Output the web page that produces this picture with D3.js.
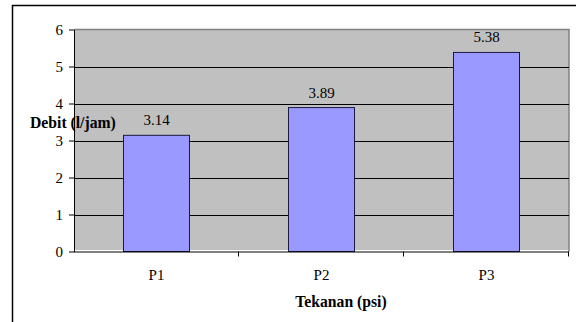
<!DOCTYPE html>
<html>
<head>
<meta charset="utf-8">
<script src="https://cdn.jsdelivr.net/npm/d3@7"></script>
<style>
  body { margin: 0; background: #fff; }
  svg text { font-family: "Liberation Serif", "Times New Roman", Times, "DejaVu Serif", serif; fill: #000; }
</style>
</head>
<body>
<div id="chart-area"></div>
<script>
const categories = ["P1", "P2", "P3"];
const values = [3.14, 3.89, 5.38];
const yTicks = [0, 1, 2, 3, 4, 5, 6];

const W = 576, H = 322;
const plot = { left: 74, right: 569, top: 29.5, bottom: 251.5 };
const serif = "'Liberation Serif', 'Times New Roman', Times, 'DejaVu Serif', serif";

const svg = d3.select("#chart-area")
  .append("svg")
    .attr("width", W)
    .attr("height", H);

// outer frame (only left and top visible)
svg.append("path")
  .attr("d", `M12.5,${H} V5.5 H${W}`)
  .attr("fill", "none")
  .attr("stroke", "#000")
  .attr("stroke-width", 1.5);

const x = d3.scaleBand()
  .domain(categories)
  .range([plot.left, plot.right])
  .paddingInner(0.6)
  .paddingOuter(0.3);

// category slots without padding, for the tick marks between them
const xSlot = d3.scaleBand()
  .domain(categories)
  .range([plot.left, plot.right]);

const y = d3.scaleLinear()
  .domain([0, 6])
  .range([plot.bottom, plot.top]);

// plot background
svg.append("rect")
  .attr("x", plot.left)
  .attr("y", plot.top)
  .attr("width", plot.right - plot.left)
  .attr("height", plot.bottom - plot.top - 1.5)
  .attr("fill", "#c0c0c0");

svg.append("path")
  .attr("d", `M${plot.left},${plot.top} H${plot.right} V${plot.bottom}`)
  .attr("fill", "none")
  .attr("stroke", "#808080")
  .attr("stroke-width", 1.5);

// gridlines
svg.append("g")
  .selectAll("line")
  .data(yTicks.filter(d => d > 0 && d < 6))
  .enter()
  .append("line")
    .attr("x1", plot.left)
    .attr("x2", plot.right)
    .attr("y1", d => Math.round(y(d)) + 0.5)
    .attr("y2", d => Math.round(y(d)) + 0.5)
    .attr("stroke", "#000")
    .attr("stroke-width", 1);

// bars
svg.append("g")
  .selectAll("rect")
  .data(values)
  .enter()
  .append("rect")
    .attr("x", (d, i) => x(categories[i]))
    .attr("y", d => y(d))
    .attr("width", x.bandwidth())
    .attr("height", d => plot.bottom - y(d))
    .attr("fill", "#9999ff")
    .attr("stroke", "#1a1a40")
    .attr("stroke-width", 1);

// value labels
svg.append("g")
  .selectAll("text")
  .data(values)
  .enter()
  .append("text")
    .attr("x", (d, i) => x(categories[i]) + x.bandwidth() / 2)
    .attr("y", d => y(d) - 10)
    .attr("text-anchor", "middle")
    .attr("font-size", "15px")
    .text(d => d.toFixed(2));

// y axis
const yAxisCall = d3.axisLeft(y)
  .tickValues(yTicks)
  .tickFormat(d3.format("d"))
  .tickSize(5)
  .tickSizeOuter(0)
  .tickPadding(6);

const yAxis = svg.append("g")
  .attr("transform", `translate(${plot.left}, 0)`)
  .attr("font-family", serif)
  .call(yAxisCall);
yAxis.selectAll("text").attr("font-size", "15px");
yAxis.selectAll("line, path").attr("stroke", "#000");

// x axis
const xAxisCall = d3.axisBottom(x)
  .tickSize(0)
  .tickSizeOuter(0)
  .tickPadding(18);

const xAxis = svg.append("g")
  .attr("transform", `translate(0, ${plot.bottom})`)
  .attr("font-family", serif)
  .call(xAxisCall);
xAxis.select("path")
  .attr("d", `M${plot.left},0.5H${plot.right}`)
  .attr("stroke", "#000");
xAxis.selectAll("text").attr("font-size", "15px");

xAxis.selectAll(".slot-tick")
  .data(categories)
  .enter()
  .append("line")
    .attr("class", "slot-tick")
    .attr("x1", d => Math.round(xSlot(d) + xSlot.bandwidth()) - 0.5)
    .attr("x2", d => Math.round(xSlot(d) + xSlot.bandwidth()) - 0.5)
    .attr("y1", 0)
    .attr("y2", 5)
    .attr("stroke", "#000");

// axis titles
svg.append("text")
  .attr("x", 30)
  .attr("y", 128)
  .attr("font-size", "15.7px")
  .attr("font-weight", "bold")
  .text("Debit (l/jam)");

svg.append("text")
  .attr("x", 341)
  .attr("y", 307)
  .attr("font-size", "15.7px")
  .attr("font-weight", "bold")
  .attr("text-anchor", "middle")
  .text("Tekanan (psi)");
</script>
</body>
</html>
